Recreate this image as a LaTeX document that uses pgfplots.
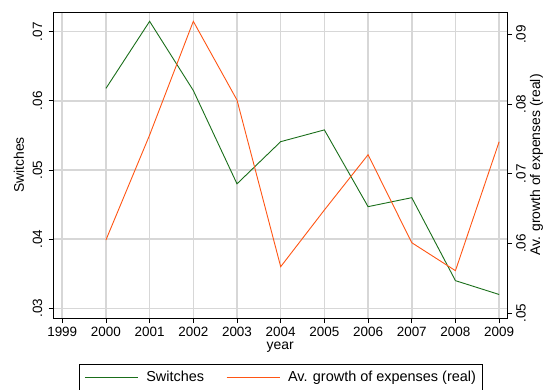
\documentclass[border=0pt]{standalone}
\usepackage{fontspec}
\setmainfont{Liberation Sans}
\usepackage{pgfplots}
\pgfplotsset{compat=1.18}
\definecolor{sgreen}{RGB}{26,110,26}
\definecolor{sorange}{RGB}{255,85,20}
\definecolor{sgrid}{RGB}{215,215,215}
\begin{document}
\begin{tikzpicture}
\path[use as bounding box] (-53.5bp,-72bp) rectangle (490.5bp,318bp);
\pgfplotsset{
  common/.style={
    at={(0,0)}, anchor=south west, scale only axis,
    width=453.5bp, height=306bp,
    xmin=1998.8, xmax=2009.18,
    scaled y ticks=false, scaled x ticks=false,
    tick align=outside, major tick length=5bp,
    axis line style={line width=0.8bp},
    every tick/.style={black, line width=0.8bp},
    tick label style={font=\fontsize{13.5}{15}\selectfont},
    label style={font=\fontsize{14}{16}\selectfont},
  }
}
\begin{axis}[common,
  ymin=0.0286, ymax=0.07285,
  xtick={1999,2000,2001,2002,2003,2004,2005,2006,2007,2008,2009},
  xticklabels={1999,2000,2001,2002,2003,2004,2005,2006,2007,2008,2009},
  ytick={0.03,0.04,0.05,0.06,0.07},
  yticklabels={.03,.04,.05,.06,.07},
  xtick pos=bottom, ytick pos=left,
  xmajorgrids=true, ymajorgrids=true,
  x grid style={draw=sgrid, line width=1.5bp},
  y grid style={draw=sgrid, line width=1.5bp},
  yticklabel style={rotate=90, anchor=south, inner sep=6bp},
  xticklabel style={anchor=north, inner sep=2bp, yshift=-2bp},
  ylabel={Switches},
  ylabel style={at={(axis description cs:-0.0761,0.5)}, anchor=center, rotate=0},
  xlabel={year},
  xlabel style={at={(axis description cs:0.5,-0.0945)}, anchor=center},
]
\addplot[sgreen, line width=0.9bp] coordinates {
(2000,0.0618) (2001,0.0715) (2002,0.0615) (2003,0.0480) (2004,0.0541)
(2005,0.0558) (2006,0.0447) (2007,0.0460) (2008,0.0340) (2009,0.0320)};
\end{axis}
\begin{axis}[common,
  ymin=0.04928, ymax=0.09325,
  axis x line=none, axis y line*=right,
  ytick={0.05,0.06,0.07,0.08,0.09},
  yticklabels={.05,.06,.07,.08,.09},
  yticklabel style={rotate=90, anchor=north, inner sep=4bp},
  ylabel={Av. growth of expenses (real)},
  ylabel style={at={(axis description cs:1.065,0.5)}, anchor=center, rotate=0},
  legend columns=2,
  legend style={at={(0.501,-0.1503)}, anchor=north, draw=black, line width=0.8bp,
    font=\fontsize{14.5}{16}\selectfont, inner xsep=5bp, inner ysep=6bp,
    nodes={inner sep=1bp},
    /tikz/every odd column/.append style={column sep=7bp},
    /tikz/every even column/.append style={column sep=21bp}},
  legend image code/.code={\draw[#1] (0bp,0bp) -- (53bp,0bp);},
]
\addlegendimage{sgreen, line width=0.9bp}
\addlegendentry{Switches}
\addplot[sorange, line width=0.9bp] coordinates {
(2000,0.06049) (2001,0.07557) (2002,0.09191) (2003,0.08060) (2004,0.05665)
(2005,0.06480) (2006,0.07274) (2007,0.06010) (2008,0.05608) (2009,0.07461)};
\addlegendentry{Av. growth of expenses (real)\hspace{7bp}}
\end{axis}
\end{tikzpicture}
\end{document}
